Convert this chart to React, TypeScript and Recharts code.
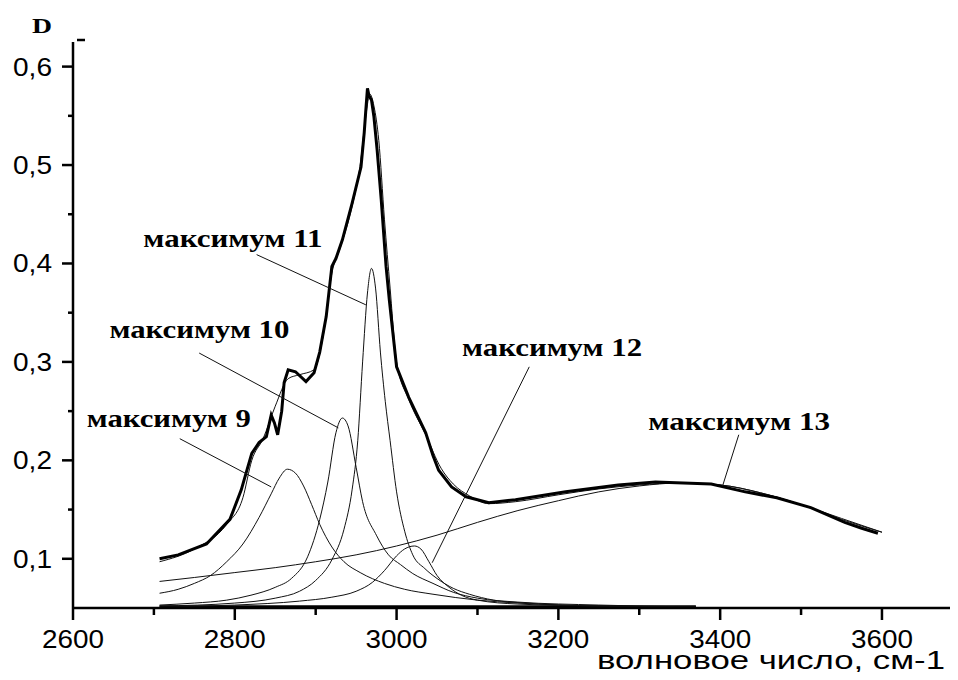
import React from 'react';
import { LineChart, Line, XAxis, YAxis, ReferenceLine, ReferenceDot } from 'recharts';

// wavenumber (cm-1), optical density D
const measured: [number, number][] = [
  [2707, 0.1], [2730, 0.104], [2765, 0.115], [2794, 0.14], [2808, 0.17], [2815, 0.19],
  [2821, 0.207], [2830, 0.218], [2839, 0.224], [2845, 0.246], [2849, 0.238], [2853, 0.226],
  [2858, 0.25], [2861, 0.279], [2866, 0.292], [2875, 0.29], [2888, 0.28], [2898, 0.289],
  [2905, 0.31], [2913, 0.346], [2920, 0.397], [2925, 0.405], [2933, 0.424], [2945, 0.461],
  [2956, 0.498], [2960, 0.533], [2962, 0.556], [2964, 0.578], [2966, 0.57], [2969, 0.566],
  [2972, 0.549], [2976, 0.515], [2981, 0.465], [2987, 0.397], [2991, 0.363], [3000, 0.295],
  [3015, 0.264], [3036, 0.228], [3045, 0.205], [3052, 0.19], [3068, 0.173], [3086, 0.163],
  [3114, 0.157], [3147, 0.16], [3209, 0.168], [3274, 0.175], [3320, 0.178], [3389, 0.176],
  [3431, 0.168], [3470, 0.162], [3512, 0.152], [3554, 0.137], [3575, 0.131], [3595, 0.126],
];

const fitted: [number, number][] = [
  [2707, 0.097], [2750, 0.11], [2790, 0.135], [2810, 0.162], [2821, 0.2], [2835, 0.222],
  [2850, 0.255], [2866, 0.283], [2880, 0.287], [2898, 0.292], [2910, 0.33], [2920, 0.39],
  [2930, 0.415], [2945, 0.458], [2955, 0.5], [2962, 0.55], [2967, 0.572], [2972, 0.56],
  [2978, 0.525], [2985, 0.445], [2992, 0.375], [3000, 0.3], [3015, 0.262], [3036, 0.226],
  [3055, 0.192], [3070, 0.176], [3090, 0.164], [3114, 0.156], [3147, 0.158], [3200, 0.165],
  [3250, 0.171], [3300, 0.175], [3350, 0.177], [3400, 0.175], [3450, 0.167], [3500, 0.155],
  [3550, 0.14], [3600, 0.127],
];

const peak9: [number, number][] = [
  [2707, 0.065], [2730, 0.069], [2750, 0.075], [2770, 0.083], [2790, 0.097], [2810, 0.115],
  [2830, 0.142], [2845, 0.166], [2855, 0.182], [2865, 0.191], [2875, 0.187], [2885, 0.174],
  [2895, 0.155], [2905, 0.135], [2920, 0.112], [2935, 0.097], [2955, 0.086], [2985, 0.075],
  [3010, 0.069], [3045, 0.064], [3100, 0.058], [3150, 0.055], [3250, 0.052], [3370, 0.051],
];

const peak10: [number, number][] = [
  [2707, 0.053], [2750, 0.055], [2790, 0.058], [2820, 0.063], [2850, 0.071], [2870, 0.08],
  [2890, 0.102], [2905, 0.14], [2915, 0.178], [2925, 0.228], [2933, 0.243], [2940, 0.235],
  [2950, 0.193], [2958, 0.158], [2975, 0.124], [2990, 0.104], [3005, 0.094], [3020, 0.085],
  [3045, 0.075], [3070, 0.066], [3100, 0.06], [3150, 0.056], [3250, 0.053], [3370, 0.051],
];

const peak11: [number, number][] = [
  [2707, 0.052], [2800, 0.055], [2850, 0.06], [2880, 0.067], [2900, 0.078], [2920, 0.099],
  [2935, 0.13], [2945, 0.17], [2952, 0.22], [2958, 0.3], [2964, 0.37], [2969, 0.395],
  [2974, 0.375], [2980, 0.31], [2986, 0.26], [2992, 0.22], [3000, 0.168], [3010, 0.128],
  [3020, 0.104], [3035, 0.09], [3050, 0.08], [3070, 0.07], [3090, 0.064], [3120, 0.058],
  [3160, 0.055], [3250, 0.052], [3370, 0.051],
];

const peak12: [number, number][] = [
  [2707, 0.051], [2800, 0.053], [2880, 0.057], [2920, 0.061], [2950, 0.067], [2970, 0.076],
  [2985, 0.088], [3000, 0.103], [3010, 0.11], [3022, 0.113], [3030, 0.11], [3040, 0.097],
  [3050, 0.083], [3065, 0.071], [3080, 0.063], [3100, 0.058], [3150, 0.054], [3250, 0.052],
  [3370, 0.051],
];

const peak13: [number, number][] = [
  [2707, 0.077], [2750, 0.081], [2800, 0.086], [2850, 0.091], [2900, 0.097], [2950, 0.104],
  [3000, 0.113], [3050, 0.124], [3100, 0.137], [3150, 0.149], [3200, 0.159], [3250, 0.168],
  [3300, 0.174], [3350, 0.177], [3400, 0.175], [3450, 0.167], [3500, 0.155], [3550, 0.141],
  [3600, 0.127],
];

const baseline: [number, number][] = [[2707, 0.0515], [3370, 0.0515]];

// label text, text anchor point, leader line start, leader line end
const labelNames = ['максимум 9', 'максимум 10', 'максимум 11', 'максимум 12', 'максимум 13'];
const labelAt: [number, number][] = [[2617, 0.234], [2645, 0.324], [2687, 0.417], [3081, 0.306], [3311, 0.231]];
const labelWidth = [164, 180, 179, 180, 182];
const leaderFrom: [number, number][] = [[2732, 0.222], [2756, 0.309], [2827, 0.409], [3164, 0.295], [3423, 0.226]];
const leaderTo: [number, number][] = [[2845, 0.173], [2928, 0.233], [2962, 0.358], [3044, 0.096], [3403, 0.174]];

const xTicks = [2600, 2700, 2800, 2900, 3000, 3100, 3200, 3300, 3400, 3500, 3600];
const yTicks = [0.1, 0.15, 0.2, 0.25, 0.3, 0.35, 0.4, 0.45, 0.5, 0.55, 0.6];

const pts = (arr: [number, number][]) => arr.map(([x, y]) => ({ x, y }));

const sans = "'Liberation Sans', Arial, sans-serif";
const serif = "'Liberation Serif', 'Times New Roman', serif";

const XTick = (props: any) => {
  const { x, y, payload } = props;
  const v = payload.value;
  const major = v % 200 === 0;
  return (
    <g>
      <line x1={x} x2={x} y1={y} y2={y + (major ? 12 : 7)} stroke="#000" strokeWidth={2.5} />
      {major && (
        <text x={x} y={y + 40} textAnchor="middle" fontSize={26} fontFamily={sans} fill="#000"
          textLength={62} lengthAdjust="spacingAndGlyphs">
          {v}
        </text>
      )}
    </g>
  );
};

const YTick = (props: any) => {
  const { x, y, payload } = props;
  const v = payload.value;
  const major = Math.round(v * 100) % 10 === 0;
  return (
    <g>
      <line x1={x} x2={x - (major ? 11 : 5)} y1={y} y2={y} stroke="#000" strokeWidth={2.5} />
      {major && (
        <text x={x - 21} y={y + 9} textAnchor="end" fontSize={25} fontFamily={sans} fill="#000"
          textLength={39} lengthAdjust="spacingAndGlyphs">
          {v.toFixed(1).replace('.', ',')}
        </text>
      )}
    </g>
  );
};

export default function App() {
  return (
    <div style={{ position: 'relative', width: 958, height: 680, margin: -8, background: '#fff' }}>
      <LineChart width={958} height={680} margin={{ top: 42, right: 0, bottom: 0, left: 0 }}>
        <XAxis
          dataKey="x"
          type="number"
          domain={[2600, 3694]}
          ticks={xTicks}
          tick={<XTick />}
          tickSize={0}
          tickMargin={0}
          height={72}
          axisLine={{ stroke: '#000', strokeWidth: 2.5 }}
          tickLine={false}
          allowDataOverflow
        />
        <YAxis
          type="number"
          domain={[0.05, 0.625]}
          ticks={yTicks}
          tick={<YTick />}
          tickSize={0}
          tickMargin={0}
          width={73}
          axisLine={{ stroke: '#000', strokeWidth: 2.5 }}
          tickLine={false}
          allowDataOverflow
        />
        <Line data={pts(baseline)} dataKey="y" type="linear" stroke="#000" strokeWidth={2.5} dot={false} isAnimationActive={false} />
        <Line data={pts(peak9)} dataKey="y" type="monotone" stroke="#111" strokeWidth={1} dot={false} isAnimationActive={false} />
        <Line data={pts(peak10)} dataKey="y" type="monotone" stroke="#111" strokeWidth={1} dot={false} isAnimationActive={false} />
        <Line data={pts(peak11)} dataKey="y" type="monotone" stroke="#111" strokeWidth={1} dot={false} isAnimationActive={false} />
        <Line data={pts(peak12)} dataKey="y" type="monotone" stroke="#111" strokeWidth={1} dot={false} isAnimationActive={false} />
        <Line data={pts(peak13)} dataKey="y" type="monotone" stroke="#111" strokeWidth={1} dot={false} isAnimationActive={false} />
        <Line data={pts(fitted)} dataKey="y" type="monotone" stroke="#111" strokeWidth={1} dot={false} isAnimationActive={false} />
        <Line data={pts(measured)} dataKey="y" type="linear" stroke="#000" strokeWidth={3} dot={false} isAnimationActive={false} />
        {labelNames.map((name, i) => (
          <ReferenceLine
            key={'l' + i}
            segment={[
              { x: leaderFrom[i][0], y: leaderFrom[i][1] },
              { x: leaderTo[i][0], y: leaderTo[i][1] },
            ]}
            stroke="#111"
            strokeWidth={1}
          />
        ))}
        {labelNames.map((name, i) => (
          <ReferenceDot
            key={'t' + i}
            x={labelAt[i][0]}
            y={labelAt[i][1]}
            r={0}
            shape={(p: any) => (
              <text x={p.cx} y={p.cy} fontSize={26} fontWeight="bold" fontFamily={serif} fill="#000"
                textLength={labelWidth[i]} lengthAdjust="spacingAndGlyphs">
                {name}
              </text>
            )}
          />
        ))}
      </LineChart>
      <svg width={958} height={680} style={{ position: 'absolute', left: 0, top: 0, pointerEvents: 'none' }}>
        <text x={32} y={33} fontSize={22} fontWeight="bold" fontFamily={serif} fill="#000"
          textLength={20} lengthAdjust="spacingAndGlyphs">D</text>
        <line x1={77} x2={85} y1={40} y2={40} stroke="#000" strokeWidth={2.5} />
        <text x={597} y={669} fontSize={26} fontFamily={sans} fill="#000"
          textLength={348} lengthAdjust="spacingAndGlyphs">волновое число, см-1</text>
      </svg>
    </div>
  );
}
